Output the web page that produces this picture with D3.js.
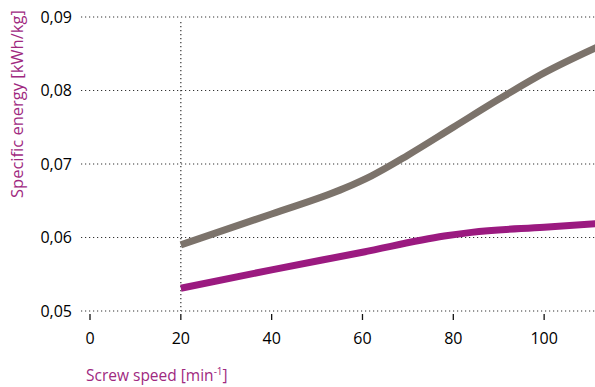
<!DOCTYPE html>
<html>
<head>
<meta charset="utf-8">
<script src="https://cdn.jsdelivr.net/npm/d3@7"></script>
<style>
  body { margin: 0; background: #fff; }
  svg { display: block; font-family: "Open Sans", sans-serif; }
</style>
</head>
<body>
<svg id="chart" width="595" height="387"></svg>
<script>
// Screw speed [min^-1] vs specific energy [kWh/kg]
const speedGray = [20, 40, 56, 62, 70, 80, 90, 100, 112];
const energyGray = [0.0590, 0.0632, 0.0667, 0.0684, 0.0712, 0.0750, 0.0788, 0.0824, 0.0860];
const speedPurple = [20, 40, 60, 78, 84, 100, 112];
const energyPurple = [0.0531, 0.0556, 0.0580, 0.0602, 0.0607, 0.0614, 0.0619];
const xTicks = [0, 20, 40, 60, 80, 100];
const yTicks = [0.05, 0.06, 0.07, 0.08, 0.09];

const svg = d3.select("#chart");
const W = 595;
const x = d3.scaleLinear().domain([0, 111.2]).range([90, 595]);
const y = d3.scaleLinear().domain([0.05, 0.09]).range([311, 17]);
const fmt = d => d.toFixed(2).replace(".", ",");

// horizontal dotted grid
svg.append("g").selectAll("line").data(yTicks).join("line")
  .attr("x1", 81).attr("x2", W)
  .attr("y1", d => y(d)).attr("y2", d => y(d))
  .attr("stroke", "#333").attr("stroke-width", 1.2)
  .attr("stroke-dasharray", "1.2,2.8");

// vertical dotted reference at 20
svg.append("line")
  .attr("x1", x(20)).attr("x2", x(20))
  .attr("y1", 22).attr("y2", y(0.05))
  .attr("stroke", "#333").attr("stroke-width", 1.2)
  .attr("stroke-dasharray", "1.2,2.8");

// y tick labels
svg.append("g").selectAll("text").data(yTicks).join("text")
  .attr("x", 72).attr("y", d => y(d) + 5.5)
  .attr("text-anchor", "end").attr("font-size", 16).attr("fill", "#000")
  .text(fmt);

// x axis ticks and labels
const xa = svg.append("g").attr("transform", "translate(0,314)");
xa.selectAll("line").data(xTicks).join("line")
  .attr("x1", d => x(d)).attr("x2", d => x(d))
  .attr("y1", 0).attr("y2", 6)
  .attr("stroke", "#111").attr("stroke-width", 1.3);
xa.selectAll("text").data(xTicks).join("text")
  .attr("x", d => x(d)).attr("y", 30)
  .attr("text-anchor", "middle").attr("font-size", 16).attr("fill", "#000")
  .text(d => d);

// series lines
svg.append("clipPath").attr("id", "plot")
  .append("rect").attr("x", 0).attr("y", 0).attr("width", W).attr("height", 387);
const line = d3.line().x(d => x(d[0])).y(d => y(d[1])).curve(d3.curveMonotoneX);
svg.append("path")
  .datum(d3.zip(speedGray, energyGray))
  .attr("d", line).attr("fill", "none")
  .attr("stroke", "#7c736b").attr("stroke-width", 7)
  .attr("clip-path", "url(#plot)");
svg.append("path")
  .datum(d3.zip(speedPurple, energyPurple))
  .attr("d", line).attr("fill", "none")
  .attr("stroke", "#9b1a80").attr("stroke-width", 7)
  .attr("clip-path", "url(#plot)");

// axis titles
svg.append("text")
  .attr("transform", "translate(23,198) rotate(-90)")
  .attr("font-size", 16.5).attr("fill", "#a0297f")
  .text("Specific energy [kWh/kg]");
svg.append("text")
  .attr("x", 86).attr("y", 381)
  .attr("font-size", 15.5).attr("fill", "#a0297f")
  .text("Screw speed [min")
  .append("tspan").attr("font-size", 10).attr("dy", -6).text("-1")
  .clone(true).attr("font-size", 15.5).attr("dy", 6).text("]");
</script>
</body>
</html>
